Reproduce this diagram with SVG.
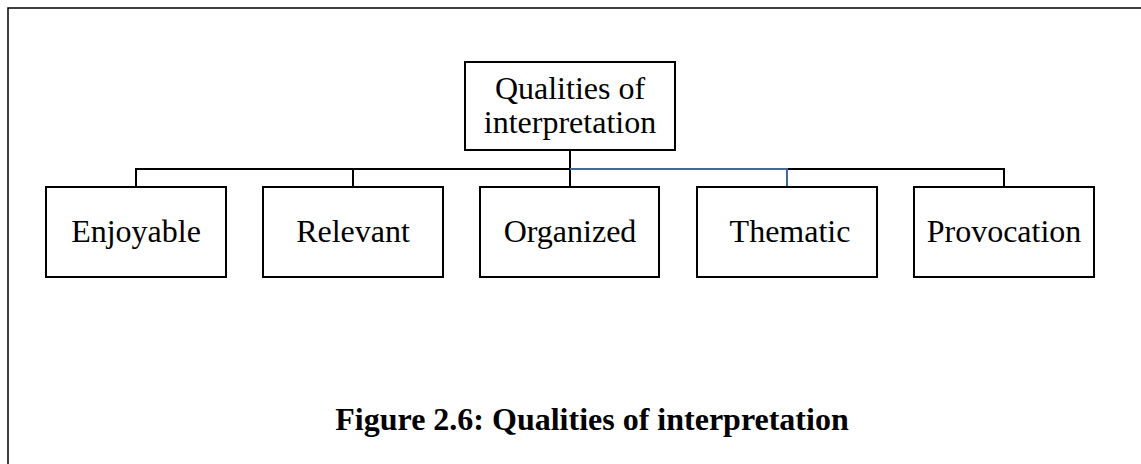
<svg xmlns="http://www.w3.org/2000/svg" width="1141" height="464" viewBox="0 0 1141 464">
<style>
.box{fill:#fff;stroke:#000;stroke-width:2}
.lbl{font-family:"Liberation Serif","Times New Roman",serif;font-size:32px;fill:#000;text-anchor:middle}
.cap{font-family:"Liberation Serif","Times New Roman",serif;font-size:32px;font-weight:bold;fill:#000;text-anchor:middle}
.con{fill:none;stroke:#000;stroke-width:2}
.blue{fill:none;stroke:#44679A;stroke-width:2}
</style>
<rect width="1141" height="464" fill="#fff"/>
<path d="M8,464 V8 H1141" fill="none" stroke="#000" stroke-width="1.5"/>
<g id="connectors">
<path class="con" d="M570,150 V187"/>
<path class="con" d="M136,187 V169 H570"/>
<path class="con" d="M353,169 V187"/>
<path class="con" d="M787,169 H1004 V187"/>
<path class="blue" d="M570,169 H787 V187"/>
</g>
<g id="root">
<rect class="box" x="465" y="62" width="210" height="88"/>
<text class="lbl" x="570" y="99">Qualities of</text>
<text class="lbl" x="570" y="133">interpretation</text>
</g>
<g id="enjoyable">
<rect class="box" x="46" y="187" width="180" height="90"/>
<text class="lbl" x="136" y="242">Enjoyable</text>
</g>
<g id="relevant">
<rect class="box" x="263" y="187" width="180" height="90"/>
<text class="lbl" x="353" y="242">Relevant</text>
</g>
<g id="organized">
<rect class="box" x="480" y="187" width="179" height="90"/>
<text class="lbl" x="570" y="242">Organized</text>
</g>
<g id="thematic">
<rect class="box" x="697" y="187" width="180" height="90"/>
<text class="lbl" x="790" y="242">Thematic</text>
</g>
<g id="provocation">
<rect class="box" x="914" y="187" width="180" height="90"/>
<text class="lbl" x="1004" y="242">Provocation</text>
</g>
<text class="cap" x="592" y="430">Figure 2.6: Qualities of interpretation</text>
</svg>
